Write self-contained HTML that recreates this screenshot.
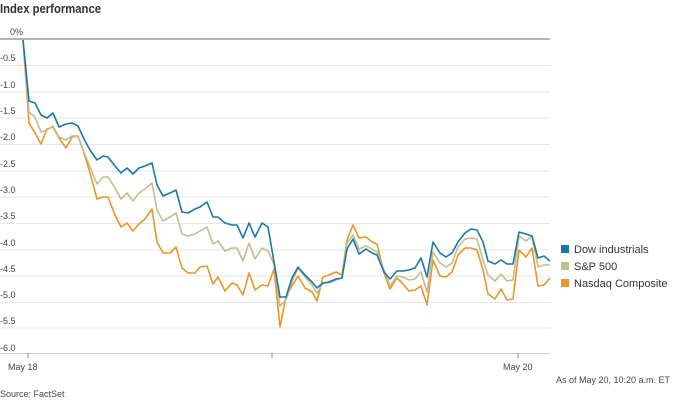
<!DOCTYPE html>
<html><head><style>
body{margin:0;background:#fff;width:688px;height:400px;overflow:hidden;font-family:"Liberation Sans",sans-serif}
</style></head><body>
<svg width="688" height="400" xmlns="http://www.w3.org/2000/svg" font-family="Liberation Sans, sans-serif">
<text x="0" y="13" font-size="12.5" font-weight="bold" fill="#333" textLength="101" lengthAdjust="spacingAndGlyphs">Index performance</text>
<g stroke="#e6e6e6" stroke-width="1">
<line x1="0" x2="550" y1="65.5" y2="65.5"/><line x1="0" x2="550" y1="92" y2="92"/><line x1="0" x2="550" y1="118" y2="118"/>
<line x1="0" x2="550" y1="144.5" y2="144.5"/><line x1="0" x2="550" y1="171" y2="171"/><line x1="0" x2="550" y1="197" y2="197"/>
<line x1="0" x2="550" y1="223.5" y2="223.5"/><line x1="0" x2="550" y1="250" y2="250"/><line x1="0" x2="550" y1="276" y2="276"/>
<line x1="0" x2="550" y1="302.5" y2="302.5"/><line x1="0" x2="550" y1="328" y2="328"/>
</g>
<line x1="0" x2="550" y1="39" y2="39" stroke="#888" stroke-width="1.2"/>
<line x1="0" x2="550" y1="353.5" y2="353.5" stroke="#ccc" stroke-width="1"/>
<g stroke="#888"><line x1="28" x2="28" y1="353" y2="358"/><line x1="272" x2="272" y1="353" y2="358"/><line x1="518" x2="518" y1="353" y2="358"/></g>
<g font-size="9" fill="#444">
<text x="10" y="35">0%</text>
<text x="0" y="61">-0.5</text><text x="0" y="88">-1.0</text><text x="0" y="114">-1.5</text><text x="0" y="140">-2.0</text>
<text x="0" y="167">-2.5</text><text x="0" y="193">-3.0</text><text x="0" y="219">-3.5</text><text x="0" y="246">-4.0</text>
<text x="0" y="272">-4.5</text><text x="0" y="298">-5.0</text><text x="0" y="324">-5.5</text><text x="0" y="351">-6.0</text>
<text x="8" y="370">May 18</text><text x="503" y="370">May 20</text>
<text x="556" y="383">As of May 20, 10:20 a.m. ET</text>
<text x="0" y="397">Source: FactSet</text>
</g>
<g fill="none" stroke-width="1.6" stroke-linejoin="round">
<polyline stroke="#e8962a" points="23,40 29,123 35,133 41,144 47,129 53,127 59,138 66,148 72,137 78,136 84,153 90,173 97,199 103,197 108,197 115,215 121,227 127,223 133,231 139,224 145,219 152,209 157,242 163,253 170,253 176,247 182,268 188,273 195,273 200,267 207,266 213,284 218,277 225,291 232,283 237,285 243,295 249,273 255,290 262,285 268,286 274,269 280,327 286,297 292,286 298,276 305,288 312,292 317,301 323,277 329,275 336,272 342,275 347,240 353,225 359,238 366,237 372,242 377,244 384,273 390,289 397,278 403,284 409,291 415,290 421,286 427,305 433,260 440,276 446,277 452,272 458,255 465,248 471,248 477,250 483,270 488,294 495,299 501,289 507,300 513,299 519,250 526,257 532,248 538,286 544,285 550,278"/>
<polyline stroke="#c4bd8c" points="23,40 29,112 35,117 41,132 47,130 53,126 59,137 66,140 72,136 78,136 84,152 90,167 97,184 103,177 108,177 115,188 121,199 127,193 133,201 139,193 145,189 152,183 157,210 163,221 170,217 176,213 182,234 188,236 195,234 200,231 207,227 213,244 218,241 225,251 232,248 237,248 243,261 249,243 255,259 262,248 268,251 274,264 280,306 286,300 292,282 298,268 305,277 312,285 317,293 323,283 329,283 336,280 342,278 347,243 353,235 359,249 366,246 372,249 377,252 384,270 390,286 397,276 403,277 409,280 415,279 421,272 427,292 433,252 440,263 446,267 452,263 458,247 465,239 471,238 477,239 483,260 488,275 495,281 501,274 507,281 513,280 519,236 526,241 532,236 538,267 544,265 550,265"/>
<polyline stroke="#1a78a8" points="23,40 29,101 35,103 41,115 47,118 53,113 59,127 66,124 72,123 78,126 84,139 90,150 97,160 103,156 108,157 115,166 121,173 127,168 133,174 139,168 145,166 152,163 157,185 163,196 170,193 176,190 182,212 188,213 195,209 200,207 207,202 213,217 218,217 225,223 232,225 237,225 243,238 249,223 255,237 262,223 268,227 274,262 280,297 286,297 292,278 298,267 305,275 312,282 317,288 323,283 329,282 336,279 342,278 347,249 353,239 359,254 366,249 372,253 377,255 384,272 390,279 397,271 403,271 409,270 415,268 421,258 427,277 433,242 440,253 446,257 452,253 458,242 465,233 471,229 477,230 483,242 488,261 495,264 501,260 507,264 513,264 519,232 526,234 532,236 538,258 544,256 550,261"/>
</g>
<rect x="561" y="245" width="8" height="8" fill="#1a78a8"/>
<rect x="561" y="262" width="8" height="8" fill="#c4bd8c"/>
<rect x="561" y="279" width="8" height="8" fill="#e8962a"/>
<g font-size="11" fill="#333">
<text x="574" y="253">Dow industrials</text>
<text x="574" y="270">S&amp;P 500</text>
<text x="574" y="287">Nasdaq Composite</text>
</g>
</svg>
</body></html>
